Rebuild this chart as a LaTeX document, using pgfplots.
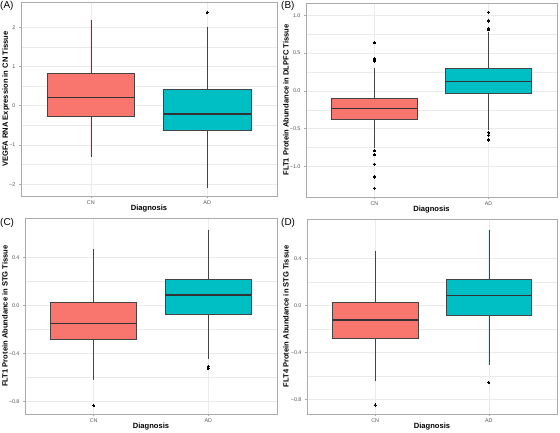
\documentclass[border=0pt]{standalone}
\usepackage{fontspec}
\setmainfont{Liberation Sans}
\usepackage{pgfplots}
\pgfplotsset{compat=1.18}
\usepgfplotslibrary{statistics}

\definecolor{cnred}{HTML}{F8766D}
\definecolor{adteal}{HTML}{00BFC4}
\definecolor{gridgray}{HTML}{EBEBEB}
\definecolor{framegray}{HTML}{ABABAB}
\definecolor{boxline}{HTML}{444444}
\definecolor{ticktext}{HTML}{555555}

\pgfplotsset{
  ggpanel/.style={
    scale only axis, anchor=north west,
    xmin=0.4, xmax=2.6, xtick={1,2}, xticklabels={CN,AD},
    xtick pos=left, ytick pos=left,
    tick align=outside, major tick length=2bp,
    major tick style={framegray, line width=0.5bp},
    minor tick length=0pt,
    axis line style={framegray, line width=0.9bp},
    xmajorgrids, ymajorgrids, yminorgrids,
    major grid style={gridgray, line width=0.6bp},
    minor grid style={gridgray, line width=0.35bp},
    minor y tick num=1,
    ticklabel style={font=\fontsize{5.4}{6}\selectfont, text=ticktext},
    xticklabel style={yshift=1bp},
    /pgf/number format/assume math mode=true,
    label style={font=\bfseries\fontsize{7.6}{9}\selectfont},
    xlabel={Diagnosis},
    xlabel style={at={([yshift=-13bp]axis description cs:0.5,0)}, anchor=center},
    boxplot/draw direction=y,
    boxplot/whisker extend=0,
    boxplot/box extend=0.75,
    boxplot/every median/.style={line width=1.2bp, draw=black!80},
  },
  ylabeloff/.style={ylabel style={at={([xshift=-#1]axis description cs:0,0.5)},
    anchor=center, rotate=0}},
  ggbox/.style={draw=boxline, line width=0.55bp,
    mark=*, mark size=1.1bp, mark options={fill=black, draw=black, line width=0pt}},
}

\begin{document}
\begin{tikzpicture}
\path[use as bounding box] (0,0) rectangle (560bp,-433bp);

% (A) VEGFA RNA expression
\begin{axis}[ggpanel, ylabeloff=15bp, at={(21bp,-2bp)}, width=256bp, height=194bp,
  ymin=-2.30, ymax=2.64, ytick={-2,-1,0,1,2},
  yticklabels={−2,−1,0,1,2},
  ylabel={VEGFA RNA Expression in CN Tissue}]
\addplot[ggbox, fill=cnred, boxplot prepared={lower whisker=-1.30,
  lower quartile=-0.28, median=0.20, upper quartile=0.83,
  upper whisker=2.17, draw position=1}] coordinates {};
\addplot[ggbox, fill=adteal, boxplot prepared={lower whisker=-2.10,
  lower quartile=-0.63, median=-0.21, upper quartile=0.42,
  upper whisker=2.01, draw position=2}] coordinates {(2,2.38)};
\end{axis}

% (B) FLT1 protein, DLPFC
\begin{axis}[ggpanel, ylabeloff=20bp, at={(306bp,-3bp)}, width=251bp, height=194bp,
  ymin=-1.405, ymax=1.163, ytick={-1,-0.5,0,0.5,1},
  yticklabels={−1.0,−0.5,0.0,0.5,1.0},
  ylabel={FLT1 Protein Abundance in DLPFC Tissue}]
\addplot[ggbox, fill=cnred, boxplot prepared={lower whisker=-0.76,
  lower quartile=-0.37, median=-0.233, upper quartile=-0.10,
  upper whisker=0.299, draw position=1}]
  coordinates {(1,0.638) (1,0.427) (1,0.396) (1,-0.79) (1,-0.845)
               (1,-0.97) (1,-1.14) (1,-1.29)};
\addplot[ggbox, fill=adteal, boxplot prepared={lower whisker=-0.52,
  lower quartile=-0.035, median=0.128, upper quartile=0.295,
  upper whisker=0.78, draw position=2}]
  coordinates {(2,1.04) (2,0.925) (2,0.83) (2,0.81) (2,-0.55)
               (2,-0.585) (2,-0.65)};
\end{axis}

% (C) FLT1 protein, STG
\begin{axis}[ggpanel, ylabeloff=20bp, at={(25bp,-218bp)}, width=252bp, height=196bp,
  ymin=-0.905, ymax=0.726, ytick={-0.8,-0.4,0,0.4},
  yticklabels={−0.8,−0.4,0.0,0.4},
  ylabel={FLT1 Protein Abundance in STG Tissue}]
\addplot[ggbox, fill=cnred, boxplot prepared={lower whisker=-0.619,
  lower quartile=-0.279, median=-0.152, upper quartile=0.022,
  upper whisker=0.464, draw position=1}] coordinates {(1,-0.833)};
\addplot[ggbox, fill=adteal, boxplot prepared={lower whisker=-0.45,
  lower quartile=-0.072, median=0.086, upper quartile=0.217,
  upper whisker=0.629, draw position=2}] coordinates {(2,-0.509) (2,-0.526)};
\end{axis}

% (D) FLT4 protein, STG
\begin{axis}[ggpanel, ylabeloff=21bp, at={(307bp,-219bp)}, width=250bp, height=195bp,
  ymin=-0.921, ymax=0.732, ytick={-0.8,-0.4,0,0.4},
  yticklabels={−0.8,−0.4,0.0,0.4},
  ylabel={FLT4 Protein Abundance in STG Tissue}]
\addplot[ggbox, fill=cnred, boxplot prepared={lower whisker=-0.639,
  lower quartile=-0.282, median=-0.124, upper quartile=0.023,
  upper whisker=0.462, draw position=1}] coordinates {(1,-0.845)};
\addplot[ggbox, fill=adteal, boxplot prepared={lower whisker=-0.507,
  lower quartile=-0.085, median=0.082, upper quartile=0.225,
  upper whisker=0.642, draw position=2}] coordinates {(2,-0.654)};
\end{axis}

% panel tags
\begin{scope}[every node/.style={anchor=north west, inner sep=0pt,
    font=\fontsize{10}{12}\selectfont}]
\node at (0bp,-1bp) {(A)};
\node at (281bp,-1bp) {(B)};
\node at (0bp,-218bp) {(C)};
\node at (281bp,-218bp) {(D)};
\end{scope}
\end{tikzpicture}
\end{document}
